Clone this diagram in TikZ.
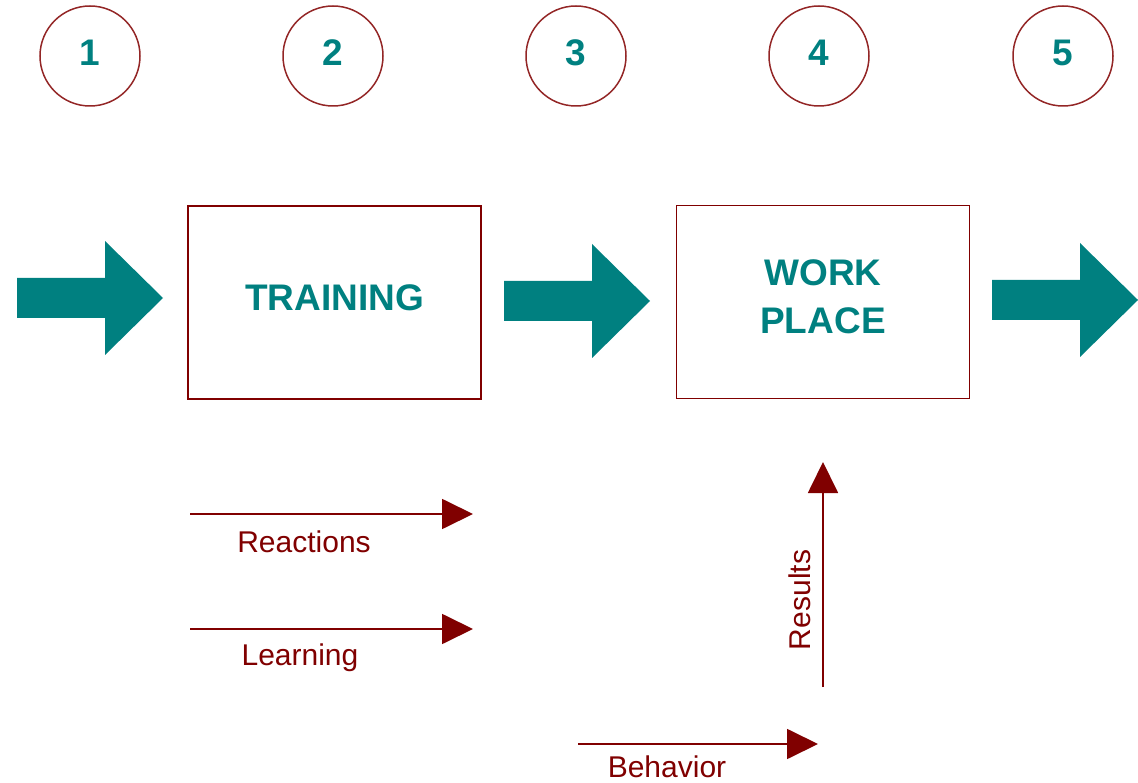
\documentclass[tikz,border=0pt]{standalone}
\usepackage{fontspec}
\setmainfont{Liberation Sans}
\usetikzlibrary{arrows.meta}
\definecolor{flowteal}{HTML}{008080}
\definecolor{linered}{HTML}{800000}
\begin{document}
\begin{tikzpicture}[x=1pt,y=-1pt,
  stage/.style={circle, draw=linered!85, line width=1.5pt, minimum size=100pt, inner sep=0pt,
    label={[text=flowteal, font=\fontsize{37}{40}\selectfont\bfseries, yshift=3pt]center:#1}},
  phase/.style={rectangle, draw=linered, line width=1.8pt, minimum width=293pt, minimum height=193pt,
    label={[text=flowteal, align=center, font=\fontsize{37}{48}\selectfont\bfseries, yshift=5pt]center:#1}},
  level/.style={draw=linered, line width=1.8pt, -{Triangle[length=31pt,width=30pt]}},
  levellabel/.style={text=linered, inner sep=0pt, anchor=base, font=\fontsize{30}{32}\selectfont},
  pics/fatarrow/.style={code={
    \fill[flowteal] (0,-20) -- (88,-20) -- (88,-57) -- (146,0) -- (88,57) -- (88,20) -- (0,20) -- cycle;}}
]
\useasboundingbox (0,0) rectangle (1138,783);

% numbered stages
\node[stage=1] (c1) at (90,56) {};
\node[stage=2] (c2) at (333,56) {};
\node[stage=3] (c3) at (576,56) {};
\node[stage=4] (c4) at (819,56) {};
\node[stage=5] (c5) at (1063,56) {};

% the two settings
\node[phase=TRAINING] (training) at (334.5,302.5) {};
\node[phase={WORK\\PLACE}] (work) at (823,302) {};

% flow through the stages
\pic at (17,298) {fatarrow};
\pic at (504,301) {fatarrow};
\pic at (992,300) {fatarrow};

% evaluation levels
\coordinate (r0) at (190,514);
\coordinate (r1) at (473,514);
\coordinate (l0) at (190,629);
\coordinate (l1) at (473,629);
\coordinate (b0) at (578,744);
\coordinate (b1) at (818,744);
\coordinate (s0) at (823,687);
\coordinate (s1) at (823,462);

\draw[level] (r0) -- (r1);
\draw[level] (l0) -- (l1);
\draw[level] (b0) -- (b1);
\draw[level] (s0) -- (s1);

\node[levellabel] (reactions) at (304,552) {Reactions};
\node[levellabel] (learning) at (300,665) {Learning};
\node[levellabel] (behavior) at (667,777) {Behavior};
\node[levellabel, rotate=90] (results) at (810,600) {Results};
\end{tikzpicture}
\end{document}
